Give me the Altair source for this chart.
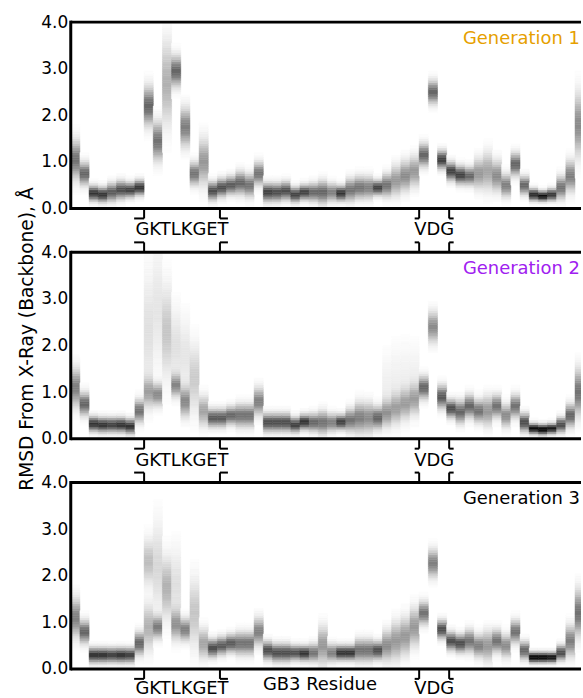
import altair as alt
import numpy as np
import pandas as pd

# ---------------- data ----------------
residues = list(range(1, 57))

# per-residue RMSD distribution: main peak centre (A), spread (A), peak darkness (0-1)
gen1_center = [1.05, 0.75, 0.33, 0.30, 0.35, 0.40, 0.40, 0.45, 2.20, 1.45,
               2.70, 2.95, 1.75, 0.75, 1.00, 0.38, 0.45, 0.50, 0.55, 0.50,
               0.75, 0.35, 0.35, 0.38, 0.30, 0.35, 0.35, 0.35, 0.35, 0.33,
               0.40, 0.45, 0.45, 0.45, 0.50, 0.60, 0.70, 0.80, 1.15, 2.50,
               1.05, 0.80, 0.72, 0.70, 0.75, 0.80, 0.70, 0.50, 0.95, 0.50,
               0.30, 0.27, 0.30, 0.45, 0.70, 1.80]
gen1_spread = [0.25, 0.15, 0.10, 0.10, 0.12, 0.12, 0.10, 0.10, 0.25, 0.25,
               0.55, 0.20, 0.25, 0.15, 0.30, 0.12, 0.12, 0.12, 0.15, 0.15,
               0.15, 0.12, 0.12, 0.12, 0.10, 0.10, 0.12, 0.15, 0.12, 0.10,
               0.15, 0.15, 0.15, 0.10, 0.15, 0.20, 0.20, 0.20, 0.15, 0.15,
               0.12, 0.12, 0.12, 0.12, 0.20, 0.25, 0.20, 0.15, 0.15, 0.12,
               0.08, 0.07, 0.08, 0.15, 0.20, 0.40]
gen1_peak = [0.55, 0.60, 0.80, 0.80, 0.65, 0.70, 0.75, 0.80, 0.60, 0.55,
             0.30, 0.60, 0.50, 0.55, 0.40, 0.70, 0.70, 0.65, 0.60, 0.55,
             0.55, 0.75, 0.70, 0.70, 0.75, 0.75, 0.60, 0.60, 0.50, 0.80,
             0.55, 0.55, 0.50, 0.75, 0.55, 0.40, 0.45, 0.40, 0.60, 0.60,
             0.75, 0.75, 0.75, 0.60, 0.40, 0.35, 0.45, 0.50, 0.60, 0.60,
             0.85, 0.95, 0.80, 0.55, 0.50, 0.45]

gen2_center = [1.10, 0.75, 0.32, 0.30, 0.30, 0.30, 0.27, 0.60, 1.00, 0.95,
               2.30, 1.15, 0.80, 1.30, 0.60, 0.45, 0.45, 0.50, 0.50, 0.50,
               0.80, 0.35, 0.35, 0.35, 0.30, 0.36, 0.35, 0.35, 0.35, 0.36,
               0.40, 0.45, 0.45, 0.45, 0.55, 0.65, 0.75, 0.85, 1.10, 2.40,
               0.90, 0.65, 0.58, 0.70, 0.60, 0.60, 0.70, 0.50, 0.70, 0.35,
               0.22, 0.20, 0.22, 0.30, 0.50, 1.00]
gen2_spread = [0.25, 0.15, 0.10, 0.10, 0.10, 0.10, 0.10, 0.15, 0.20, 0.15,
               0.60, 0.15, 0.20, 0.45, 0.20, 0.12, 0.12, 0.12, 0.15, 0.15,
               0.18, 0.12, 0.12, 0.12, 0.10, 0.10, 0.12, 0.15, 0.12, 0.10,
               0.15, 0.20, 0.20, 0.15, 0.18, 0.20, 0.20, 0.20, 0.15, 0.20,
               0.15, 0.12, 0.15, 0.15, 0.15, 0.20, 0.15, 0.15, 0.15, 0.12,
               0.07, 0.07, 0.07, 0.10, 0.15, 0.30]
gen2_peak = [0.50, 0.60, 0.80, 0.80, 0.75, 0.80, 0.80, 0.55, 0.35, 0.45,
             0.22, 0.45, 0.45, 0.20, 0.35, 0.65, 0.65, 0.60, 0.55, 0.55,
             0.50, 0.70, 0.70, 0.70, 0.75, 0.80, 0.60, 0.55, 0.50, 0.75,
             0.55, 0.50, 0.45, 0.60, 0.40, 0.35, 0.35, 0.35, 0.60, 0.45,
             0.65, 0.70, 0.60, 0.60, 0.55, 0.40, 0.55, 0.45, 0.55, 0.70,
             0.95, 1.00, 0.90, 0.70, 0.60, 0.55]

gen3_center = [1.10, 0.80, 0.30, 0.30, 0.30, 0.30, 0.30, 0.55, 2.30, 0.90,
               1.75, 0.95, 0.85, 1.20, 0.55, 0.45, 0.50, 0.55, 0.55, 0.55,
               0.80, 0.40, 0.35, 0.35, 0.35, 0.34, 0.35, 0.50, 0.35, 0.35,
               0.35, 0.40, 0.40, 0.40, 0.50, 0.60, 0.70, 0.90, 1.20, 2.27,
               0.85, 0.60, 0.55, 0.60, 0.50, 0.50, 0.60, 0.50, 0.80, 0.40,
               0.25, 0.25, 0.25, 0.35, 0.60, 1.20]
gen3_spread = [0.25, 0.15, 0.10, 0.10, 0.10, 0.10, 0.10, 0.15, 0.30, 0.15,
               0.40, 0.20, 0.15, 0.45, 0.20, 0.12, 0.12, 0.12, 0.15, 0.15,
               0.18, 0.12, 0.12, 0.12, 0.10, 0.10, 0.12, 0.25, 0.12, 0.10,
               0.10, 0.15, 0.15, 0.12, 0.20, 0.25, 0.25, 0.25, 0.15, 0.18,
               0.12, 0.12, 0.12, 0.15, 0.15, 0.20, 0.15, 0.15, 0.15, 0.12,
               0.07, 0.07, 0.07, 0.10, 0.20, 0.30]
gen3_peak = [0.50, 0.60, 0.80, 0.80, 0.75, 0.80, 0.75, 0.60, 0.25, 0.50,
             0.30, 0.40, 0.50, 0.22, 0.35, 0.70, 0.65, 0.65, 0.55, 0.55,
             0.50, 0.70, 0.70, 0.70, 0.70, 0.80, 0.55, 0.40, 0.50, 0.80,
             0.80, 0.55, 0.55, 0.70, 0.45, 0.40, 0.40, 0.40, 0.55, 0.50,
             0.70, 0.70, 0.70, 0.55, 0.50, 0.40, 0.55, 0.45, 0.55, 0.60,
             1.00, 1.00, 0.95, 0.70, 0.50, 0.55]

# secondary (broad) components of some distributions
extra_generation = [2, 2, 2, 2, 2, 2, 2, 2, 3, 3, 3]
extra_residue = [9, 10, 12, 13, 35, 36, 37, 38, 9, 10, 12]
extra_center = [2.30, 2.80, 2.00, 1.80, 1.10, 1.20, 1.25, 1.30, 0.90, 2.20, 1.80]
extra_spread = [0.80, 0.80, 0.50, 0.50, 0.45, 0.50, 0.50, 0.45, 0.30, 0.60, 0.50]
extra_peak = [0.12, 0.10, 0.12, 0.10, 0.06, 0.06, 0.06, 0.06, 0.30, 0.15, 0.12]

generation_names = ["Generation 1", "Generation 2", "Generation 3"]
generation_colors = ["#E69F00", "#A020F0", "#000000"]

region_labels = ["GKTLKGET", "VDG"]
region_first = [9, 39]
region_last = [16, 41]

rmsd_ticks = [0.0, 1.0, 2.0, 3.0, 4.0]

# ---------------- build density table ----------------
BIN = 0.05
edges = np.round(np.arange(0.0, 4.0, BIN), 3)
mids = edges + BIN / 2
params = {
    1: (gen1_center, gen1_spread, gen1_peak),
    2: (gen2_center, gen2_spread, gen2_peak),
    3: (gen3_center, gen3_spread, gen3_peak),
}
rows = []
for g, (cs, ss, ps) in params.items():
    for r, c, s, p in zip(residues, cs, ss, ps):
        dens = p * np.exp(-0.5 * ((mids - c) / s) ** 2)
        for eg, er, ec, es, ep in zip(extra_generation, extra_residue, extra_center,
                                      extra_spread, extra_peak):
            if eg == g and er == r:
                dens = dens + ep * np.exp(-0.5 * ((mids - ec) / es) ** 2)
        for lo, d in zip(edges, dens):
            if d > 0.008:
                rows.append({"gen": g, "x0": r - 0.5, "x1": r + 0.5,
                             "y0": float(lo), "y1": float(lo) + BIN,
                             "density": float(min(d, 1.0))})
cells = pd.DataFrame(rows)

regions = pd.DataFrame({
    "label": region_labels,
    "left": [f - 0.5 for f in region_first],
    "right": [l + 0.5 for l in region_last],
})
regions["mid"] = (regions["left"] + regions["right"]) / 2

# ---------------- styling ----------------
FONT = "DejaVu Sans"
COL = 9.2              # pixels per residue
W, H = 512, 187        # plot area (cut at the right like the original figure)
GAP = 44
SERIF = {"GKTLKGET": (10, 8), "VDG": (4.5, 4.5)}
RIGHT_SHIFT = 2.5

xs = alt.Scale(domain=[0.5, 0.5 + W / COL], nice=False, zero=False)
ys = alt.Scale(domain=[0, 4], nice=False, zero=False)
gray = alt.Scale(domain=[0, 1], range=["#ffffff", "#000000"], clamp=True, interpolate="rgb")
one = pd.DataFrame({"k": [0]})


def panel(g):
    d = cells[cells["gen"] == g]
    axis_kw = dict(values=rmsd_ticks, format=".1f", ticks=False, tickSize=0, domain=False,
                   grid=False, labelFontSize=17, labelFont=FONT, labelColor="black",
                   labelPadding=3)
    if g == 2:
        yaxis = alt.Axis(title="RMSD From X-Ray (Backbone), Å", titleFont=FONT,
                         titleFontSize=18.7, titleFontWeight="normal", titleColor="black",
                         titlePadding=4, titleY=H / 2 - 7, **axis_kw)
    else:
        yaxis = alt.Axis(title=None, **axis_kw)

    heat = alt.Chart(d).mark_rect(strokeWidth=0.5, clip=True).encode(
        x=alt.X("x0:Q", scale=xs, axis=None),
        x2="x1:Q",
        y=alt.Y("y0:Q", scale=ys, axis=yaxis),
        y2="y1:Q",
        fill=alt.Fill("density:Q", scale=gray, legend=None),
        stroke=alt.Stroke("density:Q", scale=gray, legend=None),
    )
    layers = [heat]
    fr = alt.Chart(one).mark_rule(color="black", strokeWidth=3)
    layers += [
        fr.encode(x=alt.value(0), x2=alt.value(W), y=alt.value(0)),
        fr.encode(x=alt.value(0), x2=alt.value(W), y=alt.value(H)),
        alt.Chart(one).mark_rule(color="black", strokeWidth=3, strokeCap="square").encode(
            x=alt.value(0), y=alt.value(0), y2=alt.value(H)),
    ]
    gen_df = pd.DataFrame({"name": [generation_names[g - 1]],
                           "color": [generation_colors[g - 1]]})
    layers.append(alt.Chart(gen_df).mark_text(align="right", baseline="alphabetic",
                                              fontSize=18, font=FONT).encode(
        x=alt.value(W - 1), y=alt.value(22), text="name:N",
        color=alt.Color("color:N", scale=None)))

    # region brackets below the panel (and above it for lower panels)
    spans = [(H, H + 10, H + 10)]
    if g > 1:
        spans.append((-10, 0, -10))
    for (ya, yb, yser) in spans:
        layers.append(alt.Chart(regions).mark_rule(color="black", strokeWidth=2).encode(
            x=alt.X("left:Q", scale=xs, axis=None), y=alt.value(ya), y2=alt.value(yb)))
        layers.append(alt.Chart(regions).mark_rule(color="black", strokeWidth=2,
                                                   xOffset=RIGHT_SHIFT).encode(
            x=alt.X("right:Q", scale=xs, axis=None), y=alt.value(ya), y2=alt.value(yb)))
        for lab in region_labels:
            sub = regions[regions["label"] == lab]
            sl, sr = SERIF[lab]
            layers.append(alt.Chart(sub).mark_rule(color="black", strokeWidth=2,
                                                   x2Offset=-sl).encode(
                x=alt.X("left:Q", scale=xs, axis=None), x2="left:Q", y=alt.value(yser)))
            layers.append(alt.Chart(sub).mark_rule(color="black", strokeWidth=2,
                                                   xOffset=RIGHT_SHIFT,
                                                   x2Offset=RIGHT_SHIFT + sr).encode(
                x=alt.X("right:Q", scale=xs, axis=None), x2="right:Q", y=alt.value(yser)))
    label_y = H + 22 if g < 3 else H + 20
    layers.append(alt.Chart(regions).mark_text(baseline="middle", fontSize=18, font=FONT,
                                               color="black", xOffset=RIGHT_SHIFT / 2).encode(
        x=alt.X("mid:Q", scale=xs, axis=None), y=alt.value(label_y), text="label:N"))
    if g == 3:
        layers.append(alt.Chart(pd.DataFrame({"t": ["GB3 Residue"]})).mark_text(
            baseline="middle", fontSize=18, font=FONT, color="black").encode(
            x=alt.value(250), y=alt.value(H + 16), text="t:N"))
    return alt.layer(*layers).properties(width=W, height=H)


chart = alt.vconcat(panel(1), panel(2), panel(3), spacing=GAP, bounds="flush").properties(
    padding={"left": 17, "top": 12, "right": 0, "bottom": -1},
    background="white",
).configure_view(strokeWidth=0)

chart.save("out.html", embed_options={"renderer": "svg", "actions": False})
